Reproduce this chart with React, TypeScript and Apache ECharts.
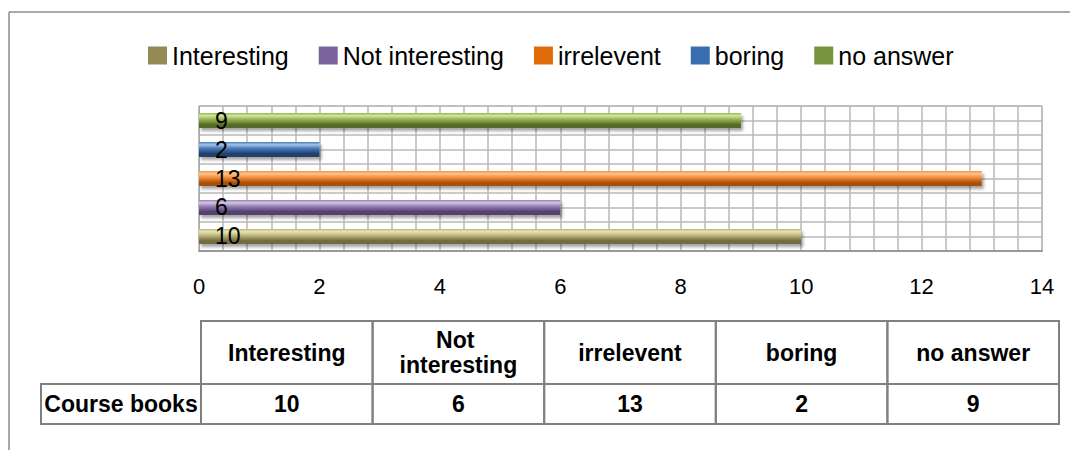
import React, { useEffect, useRef } from "react";
import * as echarts from "echarts";

// Survey answers about course books
const categories = ["Interesting", "Not interesting", "irrelevent", "boring", "no answer"];
const values = [10, 6, 13, 2, 9];
const rowLabel = "Course books";
const axisTicks = [0, 2, 4, 6, 8, 10, 12, 14];

// [highlight, base, shade] per series, plus the legend swatch colour
const barShades = [
  ["#e9e5b2", "#bfb87f", "#736c3f"],
  ["#d3c5e6", "#9580b2", "#544070"],
  ["#fdc48c", "#f3913e", "#a9500a"],
  ["#9fc2ec", "#4a7cb9", "#203f6e"],
  ["#d2e6a0", "#96b653", "#536b29"],
];
const swatchColors = ["#948a54", "#7b649b", "#e36c0a", "#3a6eb0", "#77933c"];

const FONT = "'Liberation Sans', Arial, sans-serif";

export default function App() {
  const ref = useRef<HTMLDivElement>(null);

  useEffect(() => {
    if (!ref.current) return;
    const chart = echarts.init(ref.current, undefined, { renderer: "svg" });

    const gridLeft = 199;
    const gridTop = 106;
    const gridRight = 28;
    const gridHeight = 145;

    // data table under the chart
    const tableLeft = 201;
    const colW = 171.6;
    const headTop = 321;
    const headH = 63;
    const rowH = 40;
    const labelLeft = 41;
    const border = { stroke: "#808080", lineWidth: 2, fill: "none" };

    const table: any[] = [];
    categories.forEach((name, i) => {
      const x = tableLeft + i * colW;
      table.push({
        type: "rect",
        shape: { x, y: headTop, width: colW, height: headH },
        style: { ...border },
        silent: true,
      });
      table.push({
        type: "rect",
        shape: { x, y: headTop + headH, width: colW, height: rowH },
        style: { ...border },
        silent: true,
      });
      table.push({
        type: "text",
        x: x + colW / 2,
        y: headTop + headH / 2,
        style: {
          text: name,
          font: `bold 23px ${FONT}`,
          fill: "#000",
          align: "center",
          verticalAlign: "middle",
          width: 150,
          overflow: "break",
          lineHeight: 25,
        },
        silent: true,
      });
      table.push({
        type: "text",
        x: x + colW / 2,
        y: headTop + headH + rowH / 2,
        style: {
          text: String(values[i]),
          font: `bold 23px ${FONT}`,
          fill: "#000",
          align: "center",
          verticalAlign: "middle",
        },
        silent: true,
      });
    });
    table.push({
      type: "rect",
      shape: { x: labelLeft, y: headTop + headH, width: tableLeft - labelLeft, height: rowH },
      style: { ...border },
      silent: true,
    });
    table.push({
      type: "text",
      x: (labelLeft + tableLeft) / 2,
      y: headTop + headH + rowH / 2,
      style: {
        text: rowLabel,
        font: `bold 23px ${FONT}`,
        fill: "#000",
        align: "center",
        verticalAlign: "middle",
      },
      silent: true,
    });

    const frame = [
      {
        type: "line",
        shape: { x1: 9, y1: 12, x2: 1070, y2: 12 },
        style: { stroke: "#8c8c8c", lineWidth: 1.5 },
        silent: true,
      },
      {
        type: "line",
        shape: { x1: 9, y1: 12, x2: 9, y2: 450 },
        style: { stroke: "#8c8c8c", lineWidth: 1.5 },
        silent: true,
      },
    ];

    // Series are stacked top-down in the band, so add them last-first
    // to put "Interesting" at the bottom.
    const series = categories
      .map((name, i) => {
        const [hi, base, lo] = barShades[i];
        return {
          name,
          type: "bar",
          data: [values[i]],
          barWidth: 15,
          barGap: "93.33%",
          xAxisIndex: 0,
          yAxisIndex: 0,
          itemStyle: {
            color: new echarts.graphic.LinearGradient(0, 0, 0, 1, [
              { offset: 0, color: base },
              { offset: 0.18, color: hi },
              { offset: 0.42, color: base },
              { offset: 0.78, color: lo },
              { offset: 1, color: lo },
            ]),
            shadowBlur: 3,
            shadowColor: "rgba(0,0,0,0.35)",
            shadowOffsetX: 2,
            shadowOffsetY: 3,
          },
          label: {
            show: true,
            position: "insideLeft",
            distance: 16,
            color: "#000",
            fontSize: 23,
            fontFamily: FONT,
          },
        };
      })
      .reverse();

    chart.setOption({
      animation: false,
      backgroundColor: "#fff",
      textStyle: { fontFamily: FONT },
      legend: {
        left: 148,
        top: 43,
        padding: 0,
        itemWidth: 19,
        itemHeight: 18,
        itemGap: 30,
        icon: "rect",
        textStyle: { fontSize: 25, color: "#000", fontFamily: FONT },
        data: categories.map((name, i) => ({
          name,
          itemStyle: { color: swatchColors[i] },
        })),
      },
      grid: {
        left: gridLeft,
        top: gridTop,
        right: gridRight,
        height: gridHeight,
        show: true,
        borderColor: "#a8a8a8",
        borderWidth: 1,
      },
      xAxis: {
        type: "value",
        min: axisTicks[0],
        max: axisTicks[axisTicks.length - 1],
        interval: axisTicks[1] - axisTicks[0],
        axisLine: { show: true, lineStyle: { color: "#999", width: 2 } },
        axisTick: { show: false },
        axisLabel: { fontSize: 22, color: "#000", margin: 24, fontFamily: FONT },
        splitLine: { show: true, lineStyle: { color: "#b8b8b8", width: 1.5 } },
        minorTick: { show: false, splitNumber: 5 },
        minorSplitLine: { show: true, lineStyle: { color: "#b8b8b8", width: 1.5 } },
      },
      yAxis: [
        {
          type: "category",
          data: [rowLabel],
          axisLine: { show: true, lineStyle: { color: "#a8a8a8", width: 1 } },
          axisTick: { show: false },
          axisLabel: { show: false },
          splitLine: { show: false },
        },
        {
          type: "value",
          min: 0,
          max: 10,
          interval: 1,
          position: "right",
          axisLine: { show: false },
          axisTick: { show: false },
          axisLabel: { show: false },
          splitLine: { show: true, lineStyle: { color: "#b8b8b8", width: 1.5 } },
        },
      ],
      graphic: [...frame, ...table],
      series,
    });

    return () => chart.dispose();
  }, []);

  return (
    <div
      ref={ref}
      style={{ position: "absolute", left: 0, top: 0, width: 1070, height: 450 }}
    />
  );
}
